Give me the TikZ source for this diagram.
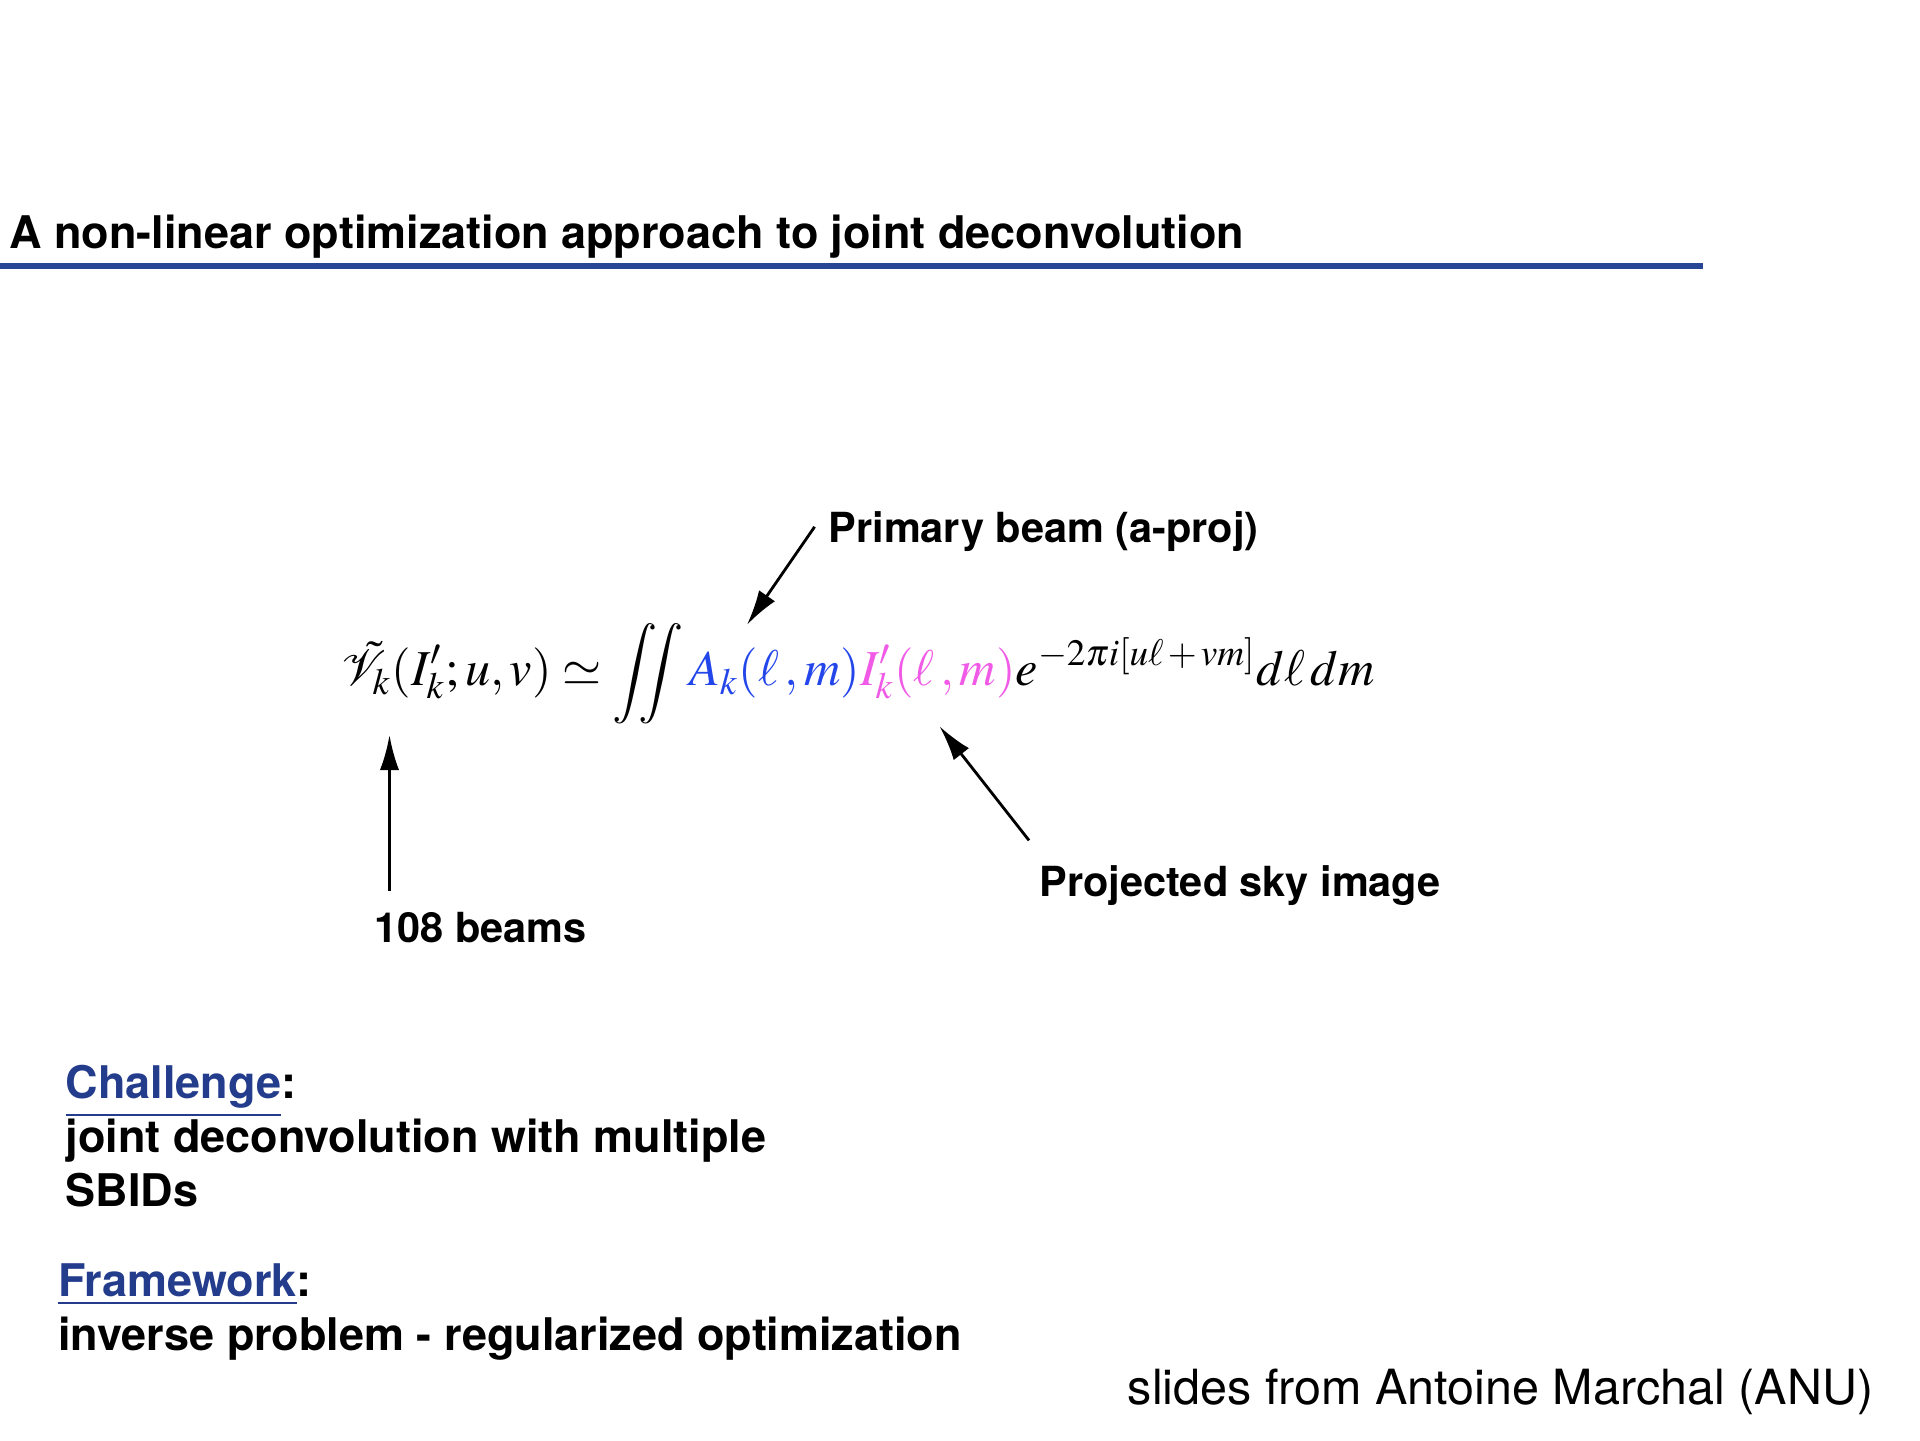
\documentclass[tikz,border=0pt]{standalone}
\usepackage{amsmath}
\usepackage{mathptmx}
\usepackage[no-math]{fontspec}
\setmainfont{TeX Gyre Heros}
\usetikzlibrary{arrows.meta}
\definecolor{titleblue}{RGB}{40,70,150}
\definecolor{headblue}{RGB}{35,60,140}
\definecolor{eqblue}{RGB}{35,70,235}
\definecolor{eqpink}{RGB}{240,90,230}
\tikzset{
  txt/.style={anchor=base west,inner sep=0pt,font=\fontsize{12.8}{15}\selectfont\bfseries},
  lbl/.style={anchor=base west,inner sep=0pt,font=\fontsize{11.8}{14}\selectfont\bfseries},
  pointer/.style={-{Latex[length=10pt,width=5.5pt]},line width=0.8pt}
}
\begin{document}
\begin{tikzpicture}[scale=1]
\useasboundingbox (0,0) rectangle (19.2,14.4);
\coordinate[] (LS) at (0,11.742);
\coordinate[] (LE) at (17.03,11.742);
\coordinate[] (PBs) at (8.146,9.132);
\coordinate[] (PBe) at (7.47,8.152);
\coordinate[] (NBs) at (3.895,5.494);
\coordinate[] (NBe) at (3.895,7.05);
\coordinate[] (PSs) at (10.29,5.996);
\coordinate[] (PSe) at (9.396,7.136);
\node[txt] (title) at (0.086,11.913) {A non-linear optimization approach to joint deconvolution};
\draw [titleblue,line width=1.8pt] (LS)--(LE);
\node[anchor=base,inner sep=0pt,font=\fontsize{14.3}{17}\selectfont] (eq) at (8.58,7.54)
  {$\displaystyle \tilde{\mathcal{V}}_k(I'_k; u, v) \simeq \iint \textcolor{eqblue}{A_k(\ell\,, m)}\textcolor{eqpink}{I'_k(\ell\,, m)}e^{-2\pi i \left[u\ell\,+\,vm\right]}d\ell\, dm$};
\node[lbl] (pb) at (8.28,8.973) {Primary beam (a-proj)};
\node[lbl] (nb) at (3.736,4.98) {108 beams};
\node[lbl] (ps) at (10.388,5.433) {Projected sky image};
\draw[pointer] (PBs) -- (PBe);
\draw[pointer] (NBs) -- (NBe);
\draw[pointer] (PSs) -- (PSe);
\node[txt] (ch) at (0.649,3.412) {\textcolor{headblue}{\underline{Challenge}}:};
\node[txt] (ch1) at (0.649,2.873) {joint deconvolution with multiple};
\node[txt] (ch2) at (0.649,2.334) {SBIDs};
\node[txt] (fw) at (0.576,1.44) {\textcolor{headblue}{\underline{Framework}}:};
\node[txt] (fw1) at (0.576,0.90) {inverse problem - regularized optimization};
\node[anchor=base east,inner sep=0pt,font=\fontsize{13.8}{16}\selectfont] (src) at (18.74,0.36) {slides from Antoine Marchal (ANU)};
\end{tikzpicture}
\end{document}
